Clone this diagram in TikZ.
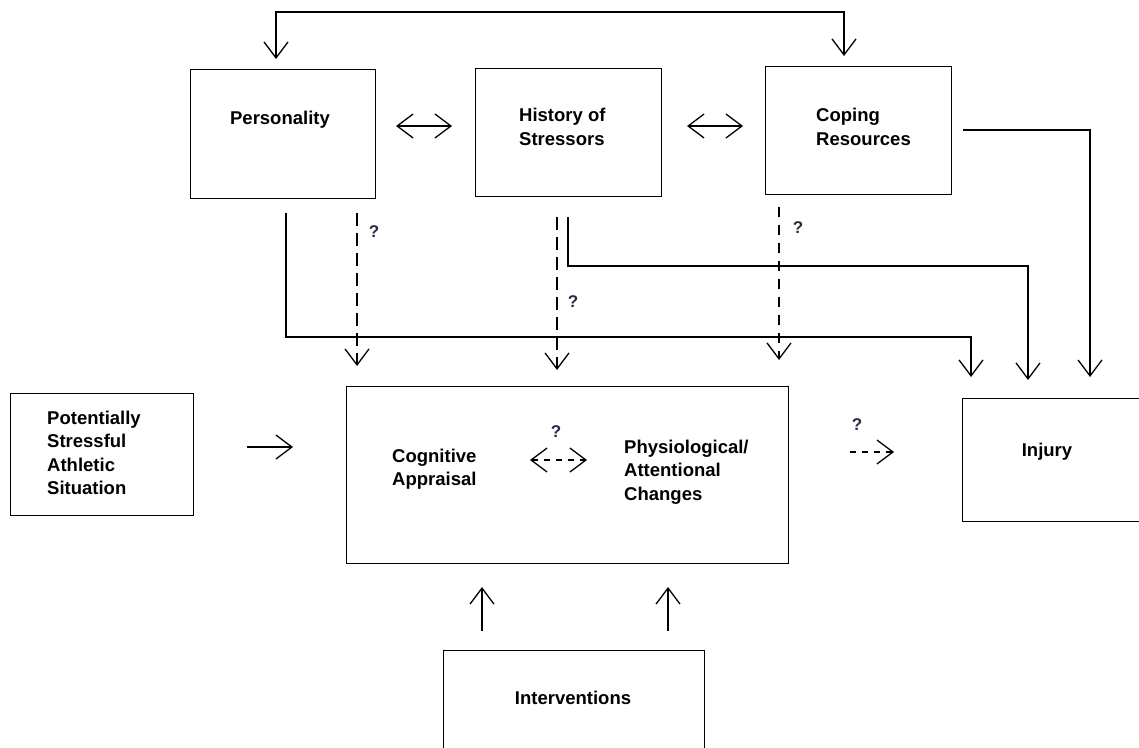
\documentclass[tikz,border=0pt]{standalone}
\usepackage{fontspec}
\setmainfont{Liberation Sans}
\usetikzlibrary{arrows.meta}
\definecolor{qmark}{RGB}{40,42,66}
\tikzset{
  box/.style={draw, line width=1.3pt, anchor=north west, inner sep=0pt},
  lbl/.style={font=\fontsize{18.5}{23.3}\selectfont\bfseries, inner sep=0pt, align=left},
  qlbl/.style={font=\fontsize{17}{20}\selectfont\bfseries, text=qmark, inner sep=0pt},
  link/.style={line width=1.3pt, -{Straight Barb[length=16pt,width=24pt,line width=1.3pt]}},
  links/.style={line width=1.3pt, {Straight Barb[length=16pt,width=24pt,line width=1.3pt]}-{Straight Barb[length=16pt,width=24pt,line width=1.3pt]}},
  dlink/.style={link, dash pattern=on 13pt off 7pt},
}
\begin{document}
\begin{tikzpicture}[x=1pt,y=-1pt]
\useasboundingbox (0,0) rectangle (1139,747);
\fill[white] (0,0) rectangle (1139,747);
%%% Boxes
\node[box, minimum width=185pt, minimum height=129pt] (pers) at (190,69) {};
\node[box, minimum width=186pt, minimum height=128pt] (hist) at (475,68) {};
\node[box, minimum width=186pt, minimum height=128pt] (cope) at (765,66) {};
\node[box, minimum width=183pt, minimum height=122pt] (pot) at (10,393) {};
\node[box, minimum width=442pt, minimum height=177pt] (appr) at (346,386) {};
\node[box, minimum width=184pt, minimum height=123pt] (inj) at (962,398) {};
\node[box, minimum width=261pt, minimum height=110pt] (interv) at (443,650) {};
%%% Texts
\node[lbl] (persT) at (280,120) {Personality};
\node[lbl, anchor=west] (histT) at (519,127) {History of\\Stressors};
\node[lbl, anchor=west] (copeT) at (816,127) {Coping\\Resources};
\node[lbl, anchor=west] (potT) at (47,453) {Potentially\\Stressful\\Athletic\\Situation};
\node[lbl, anchor=west] (cogT) at (392,469) {Cognitive\\Appraisal};
\node[lbl, anchor=west] (physT) at (624,472) {Physiological/\\Attentional\\Changes};
\node[lbl] (injT) at (1047,452) {Injury};
\node[lbl] (intT) at (573,698) {Interventions};
%%% Question marks
\node[qlbl] (q1) at (374,232) {?};
\node[qlbl] (q2) at (573,302) {?};
\node[qlbl] (q3) at (798,228) {?};
\node[qlbl] (q4) at (556,432) {?};
\node[qlbl] (q5) at (857,425) {?};
%%% Free ends of the connectors
\coordinate (persIn) at (276,59);
\coordinate (copeIn) at (844,56);
\coordinate (ph1) at (396,126);
\coordinate (ph2) at (452,126);
\coordinate (hc1) at (687,126);
\coordinate (hc2) at (743,126);
\coordinate (copeOut) at (963,130);
\coordinate (persOut) at (286,213);
\coordinate (persDash) at (357,213);
\coordinate (histOut) at (568,217);
\coordinate (histDash) at (557,217);
\coordinate (copeDash) at (779,207);
\coordinate (injIn1) at (971,377);
\coordinate (injIn2) at (1028,380);
\coordinate (injIn3) at (1090,377);
\coordinate (apprIn1) at (357,366);
\coordinate (apprIn2) at (557,370);
\coordinate (apprIn3) at (779,360);
\coordinate (potOut) at (247,447);
\coordinate (apprL) at (293,447);
\coordinate (cogR) at (530,460);
\coordinate (physL) at (587,460);
\coordinate (apprOut) at (850,452);
\coordinate (injL) at (894,452);
\coordinate (intOut1) at (482,631);
\coordinate (intOut2) at (668,631);
\coordinate (apprB1) at (482,587);
\coordinate (apprB2) at (668,587);
%Dependency between personality and coping resources
\draw[links] (persIn) -- ++(0,-47) -| (copeIn);
\draw[links] (ph1) -- (ph2);
\draw[links] (hc1) -- (hc2);
%Dependency of injury on the three boxes
\draw[link] (copeOut) -| (injIn3);
\draw[link] (persOut) |- ++(100,124) -| (injIn1);
\draw[link] (histOut) |- ++(100,49) -| (injIn2);
%Dependency of appraisal on the three boxes
\draw[dlink] (persDash) -- (apprIn1);
\draw[dlink] (histDash) -- (apprIn2);
\draw[dlink, dash pattern=on 10pt off 8pt] (copeDash) -- (apprIn3);
%Situation, stress response and injury
\draw[link] (potOut) -- (apprL);
\draw[links, dash pattern=on 6pt off 6pt] (cogR) -- (physL);
\draw[link, dash pattern=on 6pt off 6pt] (apprOut) -- (injL);
%Interventions
\draw[link] (intOut1) -- (apprB1);
\draw[link] (intOut2) -- (apprB2);
\end{tikzpicture}
\end{document}
